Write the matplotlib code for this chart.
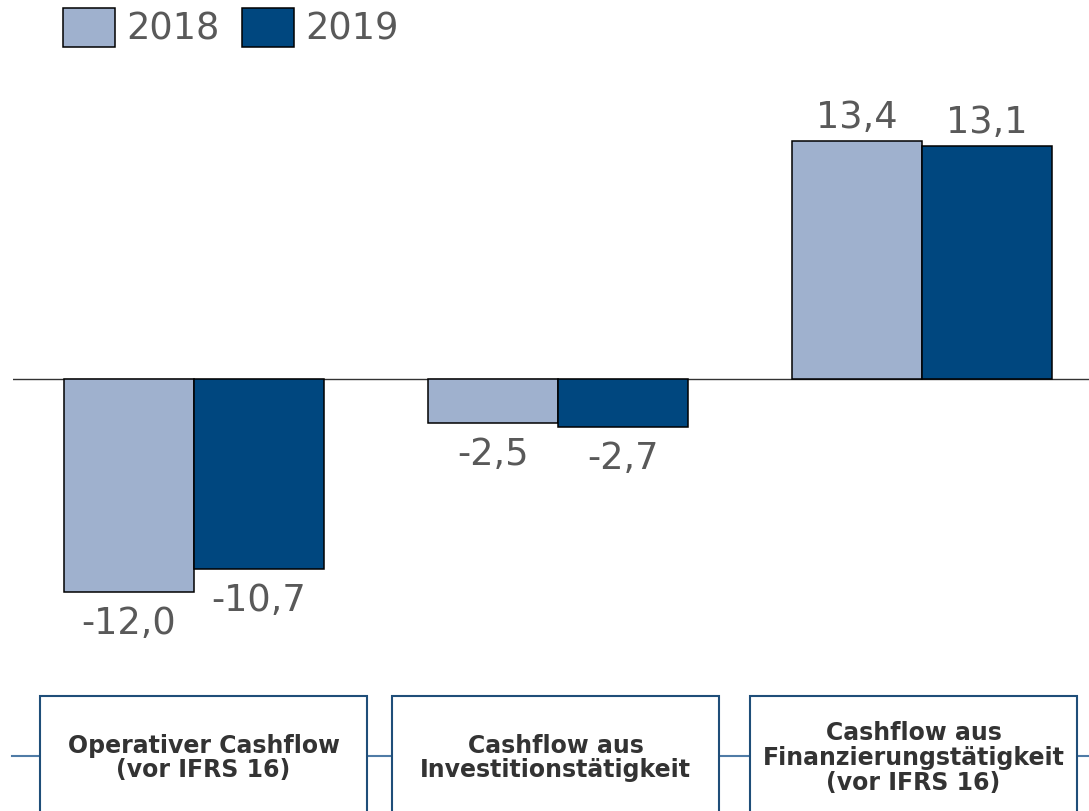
import matplotlib.pyplot as plt
from matplotlib.patches import Patch, Rectangle
from matplotlib.lines import Line2D
import numpy as np

plt.rcParams['font.family'] = ['DejaVu Sans']

# ── data ──────────────────────────────────────────────────────────────────────
categories = ['Operativer Cashflow\n(vor IFRS 16)',
              'Cashflow aus\nInvestitionstätigkeit',
              'Cashflow aus\nFinanzierungstätigkeit\n(vor IFRS 16)']
years = ['2018', '2019']
values_2018 = [-12.0, -2.5, 13.4]
values_2019 = [-10.7, -2.7, 13.1]

C18 = '#9fb1ce'
C19 = '#00477f'
TXT = '#595959'
BOX = '#1f4e79'
LINK = '#4f7ba6'

W, H = 1089, 811
fig = plt.figure(figsize=(W / 100, H / 100), dpi=100)

# axes spans x 13..1089 px, y 60..680 px
ax = fig.add_axes([13 / W, 1 - 680 / H, 1 - 13 / W, 620 / H])
ax.axis('off')

x = np.arange(len(categories))
bw = 130 / 364
b1 = ax.bar(x - bw / 2, values_2018, bw, color=C18, edgecolor='black', lw=1.1)
b2 = ax.bar(x + bw / 2, values_2019, bw, color=C19, edgecolor='black', lw=1.1)

fmt = lambda v: f'{v:.1f}'.replace('.', ',')
for bars in (b1, b2):
    for rect, v in zip(bars.patches, bars.datavalues):
        cx = rect.get_x() + rect.get_width() / 2
        off = 9.4 if v >= 0 else -30.2
        ax.annotate(fmt(v), (cx, v), xytext=(0, off), textcoords='offset points',
                    ha='center', va='baseline', fontsize=26.5, color=TXT)

ax.axhline(0, color='#333333', lw=1.0, zorder=0)
ax.set_xlim((13 - 194) / 364, (1089 - 194) / 364)
ax.set_ylim((379 - 680) / 17.76, (379 - 60) / 17.76)

# ── legend ────────────────────────────────────────────────────────────────────
fig.legend(handles=[Patch(fc=C18, ec='black', lw=1.1, label=years[0]),
                    Patch(fc=C19, ec='black', lw=1.1, label=years[1])],
           loc='upper left', bbox_to_anchor=(63 / W, 1 - 8 / H), ncol=2,
           frameon=False, fontsize=26.5, labelcolor=TXT, borderpad=0,
           handlelength=1.41, handleheight=1.26, handletextpad=0.3,
           columnspacing=0.62, borderaxespad=0)

# ── category boxes ────────────────────────────────────────────────────────────
fig.add_artist(Line2D([12 / W, 1], [1 - 756 / H, 1 - 756 / H],
                      color=LINK, lw=1.5, zorder=1))
box_x = [40, 392, 750]
box_w = 327
for bx, cat in zip(box_x, categories):
    fig.add_artist(Rectangle((bx / W, -0.05), box_w / W, 0.05 + 1 - 696 / H,
                             fc='white', ec=BOX, lw=1.5, zorder=2))
    fig.text((bx + box_w / 2) / W, 1 - 758 / H, cat, ha='center', va='center',
             fontsize=17, fontweight='bold', family='DejaVu Sans',
             color='#333333', linespacing=1.05, zorder=3)

fig.savefig('out.png', dpi=100, facecolor='white')
